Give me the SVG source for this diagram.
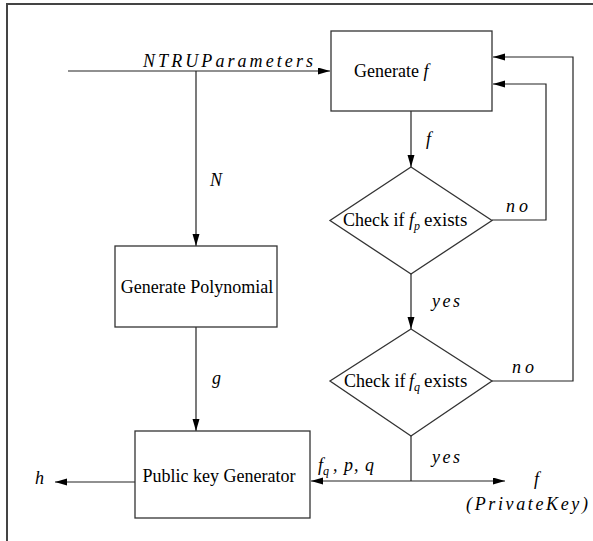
<svg xmlns="http://www.w3.org/2000/svg" width="593" height="541" viewBox="0 0 593 541">
<style>
.frame{fill:none;stroke:#444;stroke-width:2}
.box{fill:#fff;stroke:#333;stroke-width:1.3}
.ln{fill:none;stroke:#222;stroke-width:1.2}
text{font-family:'Liberation Serif','Times New Roman',serif;font-size:18px;fill:#000}
.m{font-style:italic}
.s{font-size:12px}
.x{font-size:19px}
</style>
<defs>
<marker id="ah" markerUnits="userSpaceOnUse" markerWidth="13" markerHeight="8" refX="12" refY="3.5" orient="auto">
<path d="M0,0 L12,3.5 L0,7 z" fill="#000"/>
</marker>
</defs>
<rect width="593" height="541" fill="#fff"/>
<path class="frame" d="M7,541 L7,4 L593,4"/>

<g id="connectors">
<path class="ln" d="M68,71 L330,71" marker-end="url(#ah)"/>
<path class="ln" d="M196,71 L196,246" marker-end="url(#ah)"/>
<path class="ln" d="M196,327 L196,431" marker-end="url(#ah)"/>
<path class="ln" d="M411,111 L411,167" marker-end="url(#ah)"/>
<path class="ln" d="M411,274 L411,329" marker-end="url(#ah)"/>
<path class="ln" d="M492,220 L546,220 L546,84 L493,84" marker-end="url(#ah)"/>
<path class="ln" d="M492,381 L573,381 L573,57 L493,57" marker-end="url(#ah)"/>
<path class="ln" d="M411,436 L411,481"/>
<path class="ln" d="M411,481 L311,481" marker-end="url(#ah)"/>
<path class="ln" d="M411,481 L505,481" marker-end="url(#ah)"/>
<path class="ln" d="M135,482 L55,482" marker-end="url(#ah)"/>
<text class="m" x="143" y="67" textLength="170" lengthAdjust="spacing">NTRUParameters</text>
<text class="m" x="210" y="186">N</text>
<text class="m" x="212" y="384">g</text>
<text class="m" x="426" y="145">f</text>
<text class="m" x="432" y="307" textLength="28" lengthAdjust="spacing">yes</text>
<text class="m" x="506" y="212" textLength="22" lengthAdjust="spacing">no</text>
<text class="m" x="512" y="373" textLength="22" lengthAdjust="spacing">no</text>
<text class="m" x="432" y="463" textLength="28" lengthAdjust="spacing">yes</text>
<text class="m" x="318" y="471">f<tspan class="s" dy="4">q</tspan><tspan dy="-4" x="333" textLength="41" lengthAdjust="spacing">, p, q</tspan></text>
<text class="m" x="534" y="485">f</text>
<text class="m" x="466" y="510" textLength="122" lengthAdjust="spacing">(PrivateKey)</text>
<text class="m" x="35" y="484">h</text>
</g>

<g id="generate-f">
<rect class="box" x="331" y="31" width="161" height="80"/>
<text x="354" y="77">Generate <tspan class="m">f</tspan></text>
</g>

<g id="check-fp">
<path class="box" d="M411,167 L492,220.5 L411,274 L330,220.5 z"/>
<text x="343" y="226">Check if<tspan class="m" x="409">f</tspan><tspan class="m s" dy="4">p</tspan><tspan class="x" dy="-4" x="424">exists</tspan></text>
</g>

<g id="check-fq">
<path class="box" d="M411,329 L492,381 L411,436 L330,381 z"/>
<text x="344" y="387">Check if<tspan class="m" x="409">f</tspan><tspan class="m s" dy="4">q</tspan><tspan class="x" dy="-4" x="424">exists</tspan></text>
</g>

<g id="generate-polynomial">
<rect class="box" x="115" y="246" width="162" height="81"/>
<text x="197" y="293" text-anchor="middle">Generate Polynomial</text>
</g>

<g id="public-key-generator">
<rect class="box" x="135" y="431" width="175" height="87"/>
<text x="219" y="482" text-anchor="middle">Public key Generator</text>
</g>
</svg>
